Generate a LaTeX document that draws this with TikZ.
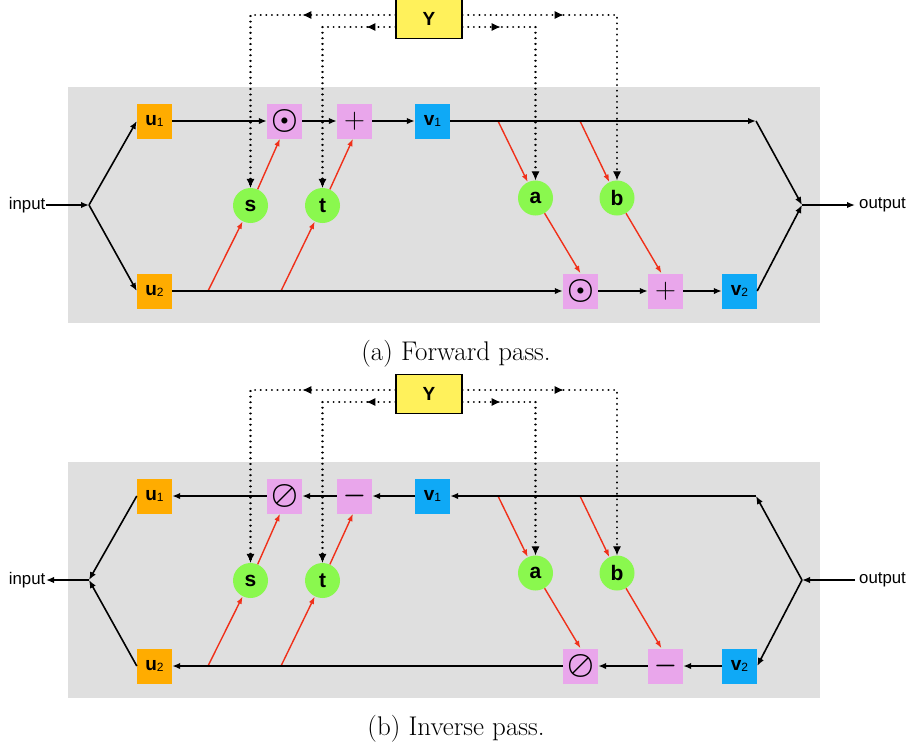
\documentclass[tikz,border=0pt]{standalone}
\usepackage{fix-cm}
\usepackage{fontspec}
\newfontfamily\lsans{Liberation Sans}
\usetikzlibrary{arrows.meta,decorations.markings}
\definecolor{cu}{HTML}{FFAC00}
\definecolor{cop}{HTML}{E9A6EB}
\definecolor{cv}{HTML}{0FA9F6}
\definecolor{cg}{HTML}{8AF84E}
\definecolor{cy}{HTML}{FFF15B}
\definecolor{cbg}{HTML}{DFDFDF}
\definecolor{cred}{HTML}{F0301A}
\newcommand\lsub[1]{\raisebox{-1pt}{\fontsize{12}{12}\selectfont\mdseries #1}}
\newcommand\opsym[2]{{\fontsize{#1}{#1}\selectfont #2}}
\newcommand\PanelBase[4]{%
  \fill[cbg] (68,87) rectangle (820,323);
  \node[ybox] (Y) at (429,19) {Y};
  \node[ubox] (u1) at (154.5,121) {u\lsub{1}};
  \node[ubox] (u2) at (154.5,291) {u\lsub{2}};
  \node[opbox] (o1) at (284.5,121) {#1};
  \node[opbox] (o2) at (354.5,121) {#2};
  \node[vbox] (v1) at (432.5,121) {v\lsub{1}};
  \node[opbox] (o3) at (580.5,291) {#3};
  \node[opbox] (o4) at (665.5,291) {#4};
  \node[vbox] (v2) at (739.5,291) {v\lsub{2}};
  \node[circ] (s) at (250.5,205.5) {s};
  \node[circ] (t) at (322.5,205.5) {t};
  \node[circ] (a) at (535.5,198) {a};
  \node[circ] (b) at (617,198) {b};
  \node[lbl, anchor=east, inner xsep=0.5pt] (in) at (46,205) {input};
  \node[lbl, anchor=west, inner xsep=4pt] (out) at (855,205) {output};
  \coordinate (J1) at (89,205);
  \coordinate (J2) at (802,205);
  \coordinate (C) at (756,121);
  \coordinate (rs) at (208,291);
  \coordinate (rt) at (281,291);
  \coordinate (ra) at (498,121);
  \coordinate (rb) at (580,121);
  \draw[redarr] (rs) -- (s);
  \draw[redarr] (s) -- ([xshift=-4.5pt]o1.south);
  \draw[redarr] (rt) -- (t);
  \draw[redarr] (t) -- ([xshift=-1.5pt]o2.south);
  \draw[redarr] (ra) -- (a);
  \draw[redarr] (a) -- (o3.north);
  \draw[redarr] (rb) -- (b);
  \draw[redarr] (b) -- ([xshift=-4pt]o4.north);
  \draw[dotline, tips=93pt] ([yshift=4pt]Y.west) -| (s.north);
  \draw[dotline, tips=29pt] ([yshift=-8pt]Y.west) -| (t.north);
  \draw[dotline, tips=38pt] ([yshift=-8pt]Y.east) -| (a.north);
  \draw[dotline, tips=101pt] ([yshift=4pt]Y.east) -| (b.north);
}
\begin{document}
\begin{tikzpicture}[x=1pt,y=-1pt,
  box/.style={minimum size=35pt, inner sep=0pt, font=\lsans\bfseries\fontsize{19}{19}\selectfont},
  ubox/.style={box, fill=cu},
  vbox/.style={box, fill=cv},
  opbox/.style={box, fill=cop},
  circ/.style={circle, fill=cg, minimum size=35pt, inner sep=0pt, font=\lsans\bfseries\fontsize{21}{21}\selectfont},
  ybox/.style={draw=black, line width=1.3pt, fill=cy, minimum width=66pt, minimum height=39pt, inner sep=0pt, font=\lsans\bfseries\fontsize{19}{19}\selectfont},
  lbl/.style={inner ysep=0pt, font=\lsans\fontsize{16.8}{16.8}\selectfont},
  arr/.style={-{Latex[length=8pt,width=6.5pt]}, line width=1.6pt},
  redarr/.style={-{Latex[length=7.5pt,width=5.5pt]}, line width=1.4pt, draw=cred},
  dotline/.style={line width=2.2pt, line cap=round, dash pattern=on 0.01pt off 5.6pt, shorten >=3pt},
  tips/.style={postaction={decorate}, decoration={markings,
     mark=at position #1 with {\pgfsetdash{}{0pt}\pgfsetlinewidth{1pt}\arrow{Latex[length=9pt,width=8pt]}},
     mark=at position 1 with {\pgfsetdash{}{0pt}\pgfsetlinewidth{1pt}\arrow{Latex[length=9pt,width=8pt]}}}},
  captext/.style={anchor=base, font=\fontsize{27}{30}\selectfont}
]
\useasboundingbox (0,0) rectangle (910,748);
\begin{scope}[name prefix=f-]
  \PanelBase{\opsym{30}{\boldmath$\odot$}}{\opsym{29}{$+$}}{\opsym{30}{\boldmath$\odot$}}{\opsym{29}{$+$}}
  \draw[arr] (in) -- (J1);
  \draw[arr] (J1) -- (u1.west);
  \draw[arr] (J1) -- (u2.west);
  \draw[arr] (u1) -- (o1);
  \draw[arr] (o1) -- (o2);
  \draw[arr] (o2) -- (v1);
  \draw[arr] (v1) -- (C);
  \draw[arr] (C) -- (J2);
  \draw[arr] (v2.east) -- (J2);
  \draw[arr] (J2) -- (out);
  \draw[arr] (u2) -- (o3);
  \draw[arr] (o3) -- (o4);
  \draw[arr] (o4) -- (v2);
  \node[captext] (capa) at (456,360.5) {(a) Forward pass.};
\end{scope}
\begin{scope}[name prefix=i-, shift={(0,375)}]
  \PanelBase{\opsym{30}{\boldmath$\oslash$}}{\opsym{26}{\boldmath$-$}}{\opsym{30}{\boldmath$\oslash$}}{\opsym{26}{\boldmath$-$}}
  \draw[arr] (J1) -- (in);
  \draw[arr] (u1.west) -- (J1);
  \draw[arr] (u2.west) -- (J1);
  \draw[arr] (o1) -- (u1);
  \draw[arr] (o2) -- (o1);
  \draw[arr] (v1) -- (o2);
  \draw[arr] (C) -- (v1);
  \draw[arr] (J2) -- (C);
  \draw[arr] (J2) -- (v2.east);
  \draw[arr] (out) -- (J2);
  \draw[arr] (o3) -- (u2);
  \draw[arr] (o4) -- (o3);
  \draw[arr] (v2) -- (o4);
  \node[captext] (capb) at (456,360.5) {(b) Inverse pass.};
\end{scope}
\end{tikzpicture}
\end{document}
